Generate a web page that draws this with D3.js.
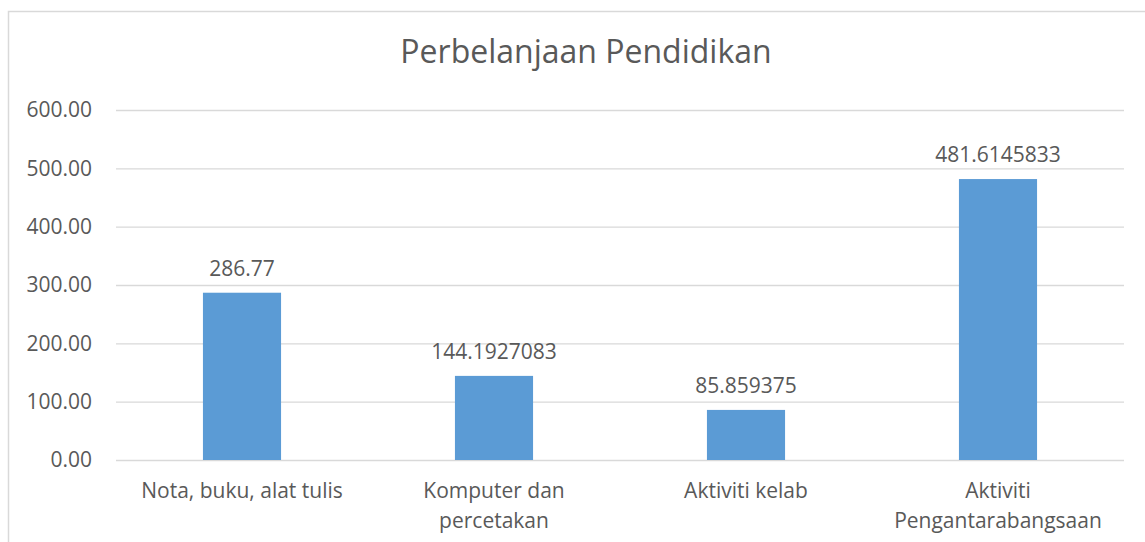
<!DOCTYPE html>
<html>
<head>
<meta charset="utf-8">
<script src="https://cdn.jsdelivr.net/npm/d3@7"></script>
<style>
  body { margin: 0; background: #fff; }
  text { font-family: "Open Sans", Lato, sans-serif; fill: #595959; }
</style>
</head>
<body>
<script>
// data
var categories = ['Nota, buku, alat tulis', 'Komputer dan\npercetakan', 'Aktiviti kelab', 'Aktiviti\nPengantarabangsaan']
var values = [286.77, 144.1927083, 85.859375, 481.6145833]
var yTicks = [0, 100, 200, 300, 400, 500, 600]
var title = 'Perbelanjaan Pendidikan'

var W = 1145, H = 542
var margin = { top: 110, right: 21, bottom: 82, left: 116 },
    width = W - margin.left - margin.right,
    height = H - margin.top - margin.bottom

var svg = d3.select('body').append('svg')
    .attr('width', W)
    .attr('height', H)

// chart frame (cropped at right/bottom like the screenshot)
svg.append('rect')
    .attr('x', 8.5).attr('y', 11.5)
    .attr('width', 1200).attr('height', 600)
    .attr('fill', 'none')
    .attr('stroke', '#d9d9d9')
    .attr('stroke-width', 1.5)

svg.append('text')
    .attr('x', 586).attr('y', 50)
    .attr('text-anchor', 'middle')
    .attr('dominant-baseline', 'central')
    .style('font-size', '32px')
    .text(title)

var g = svg.append('g')
    .attr('transform', 'translate(' + margin.left + ',' + margin.top + ')')

var x = d3.scaleBand().domain(categories).range([0, width]).paddingInner(0.69).paddingOuter(0.345)
var y = d3.scaleLinear().domain([0, 600]).range([height, 0])

// gridlines + y labels
var yAxis = g.append('g')
    .call(d3.axisLeft(y).tickValues(yTicks).tickSize(-width).tickPadding(24).tickFormat(d3.format('.2f')))
yAxis.select('.domain').remove()
yAxis.selectAll('line').attr('stroke', '#d9d9d9').attr('stroke-width', 1.3)
yAxis.selectAll('text').style('font-size', '21px').attr('fill', '#595959')

// bars
g.selectAll('.bar')
    .data(values)
    .enter().append('rect')
    .attr('class', 'bar')
    .attr('x', (d, i) => x(categories[i]))
    .attr('y', d => y(d))
    .attr('width', x.bandwidth())
    .attr('height', d => height - y(d))
    .attr('fill', '#5b9bd5')

// data labels
g.selectAll('.lbl')
    .data(values)
    .enter().append('text')
    .attr('class', 'lbl')
    .attr('x', (d, i) => x(categories[i]) + x.bandwidth() / 2)
    .attr('y', d => y(d) - 25)
    .attr('text-anchor', 'middle')
    .attr('dominant-baseline', 'central')
    .style('font-size', '21px')
    .text(d => String(d))

// x axis labels
var xl = g.selectAll('.xl')
    .data(categories)
    .enter().append('text')
    .attr('class', 'xl')
    .attr('x', d => x(d) + x.bandwidth() / 2)
    .attr('y', height + 31)
    .attr('text-anchor', 'middle')
    .style('font-size', '21px')
xl.each(function (d) {
    var t = d3.select(this)
    d.split('\n').forEach((line, i) => {
        t.append('tspan')
            .attr('x', t.attr('x'))
            .attr('dy', i === 0 ? '0.35em' : 30)
            .text(line)
    })
})
</script>
</body>
</html>
